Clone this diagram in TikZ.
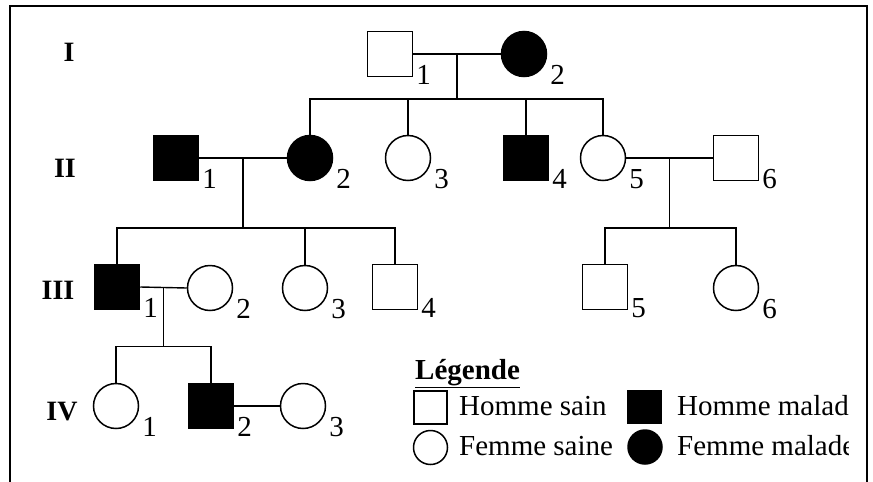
\documentclass[tikz,border=0pt]{standalone}
\usepackage{fontspec}
\setmainfont{Liberation Serif}
\usetikzlibrary{calc}

\tikzset{
  lien/.style = {line width=1.4pt},
  hsain/.style = {draw, line width=1.5pt, minimum size=45pt, inner sep=0},
  hmal/.style = {hsain, fill=black},
  fsain/.style = {circle, draw, line width=1.5pt, minimum size=45pt, inner sep=0},
  fmal/.style = {fsain, fill=black},
  num/.style = {anchor=base west, inner sep=0, xshift=3pt, yshift=-7pt,
    font=\fontsize{29}{34}\selectfont},
  gen/.style = {inner sep=0, font=\fontsize{28}{32}\selectfont\bfseries},
  legtxt/.style = {anchor=base west, inner sep=0, font=\fontsize{29}{34}\selectfont}
}

\begin{document}
\begin{tikzpicture}[x = 1pt, y = -1pt]
    \useasboundingbox (0,0) rectangle (873,482);
    \draw [line width = 2pt] (10,482) -- (10,6) -- (867,6) -- (867,482);

    % generations
    \node [gen] (gI) at (69,52) {I};
    \node [gen] (gII) at (65,168) {II};
    \node [gen] (gIII) at (58,290) {III};
    \node [gen] (gIV) at (62,412) {IV};

    % I
    \node [hsain] (I1) at (390,54) {};
    \node [fmal] (I2) at (524,54) {};
    % II
    \node [hmal] (II1) at (176,158) {};
    \node [fmal] (II2) at (310,158) {};
    \node [fsain] (II3) at (408,158) {};
    \node [hmal] (II4) at (526,158) {};
    \node [fsain] (II5) at (603,158) {};
    \node [hsain] (II6) at (736,158) {};
    % III
    \node [hmal] (III1) at (117,287) {};
    \node [fsain] (III2) at (210,288) {};
    \node [fsain] (III3) at (305,288) {};
    \node [hsain] (III4) at (395,287) {};
    \node [hsain] (III5) at (605,287) {};
    \node [fsain] (III6) at (736,288) {};
    % IV
    \node [fsain] (IV1) at (116,406) {};
    \node [hmal] (IV2) at (211,406) {};
    \node [fsain] (IV3) at (303,406) {};

    % numbers
    \node [num] (nI1) at (I1.east |- I1.south) {1};
    \node [num] (nI2) at (I2.east |- I2.south) {2};
    \node [num] (nII1) at (II1.east |- II1.south) {1};
    \node [num] (nII2) at (II2.east |- II2.south) {2};
    \node [num] (nII3) at (II3.east |- II3.south) {3};
    \node [num] (nII4) at (II4.east |- II4.south) {4};
    \node [num] (nII5) at (II5.east |- II5.south) {5};
    \node [num] (nII6) at (II6.east |- II6.south) {6};
    \node [num] (nIII1) at (III1.east |- III1.south) {1};
    \node [num] (nIII2) at (III2.east |- III2.south) {2};
    \node [num] (nIII3) at (III3.east |- III3.south) {3};
    \node [num] (nIII4) at (III4.east |- III4.south) {4};
    \node [num] (nIII5) at (III5.east |- III5.south) {5};
    \node [num] (nIII6) at (III6.east |- III6.south) {6};
    \node [num] (nIV1) at (IV1.east |- IV1.south) {1};
    \node [num] (nIV2) at (IV2.east |- IV2.south) {2};
    \node [num] (nIV3) at (IV3.east |- IV3.south) {3};

    % couples
    \draw [lien] (I1.east) -- (I2.west);
    \draw [lien] (II1.east) -- (II2.west);
    \draw [lien] (II5.east) -- (II6.west);
    \draw [lien] (III1.east) -- (III2.west);
    \draw [lien] (IV2.east) -- (IV3.west);
    \coordinate (mI) at ($(I1.east)!.5!(I2.west)$);
    \coordinate (mII) at ($(II1.east)!.5!(II2.west)$);
    \coordinate (mIIb) at ($(II5.east)!.5!(II6.west)$);
    \coordinate (mIII) at ($(III1.east)!.5!(III2.west)$);

    % children
    \coordinate (sI) at ($(mI) + (0,45)$);
    \draw [lien] (mI) -- (sI);
    \draw [lien] (II2.north) |- (sI) -| (II5.north);
    \draw [lien] (II3.north) -- (II3.north |- sI);
    \draw [lien] (II4.north) -- (II4.north |- sI);

    \coordinate (sII) at ($(mII) + (0,70)$);
    \draw [lien] (mII) -- (sII);
    \draw [lien] (III1.north) |- (sII) -| (III4.north);
    \draw [lien] (III3.north) -- (III3.north |- sII);

    \coordinate (sIIb) at ($(mIIb) + (0,70)$);
    \draw [lien] (mIIb) -- (sIIb);
    \draw [lien] (III5.north) |- (sIIb) -| (III6.north);

    \coordinate (sIII) at ($(mIII) + (0,59)$);
    \draw [lien] (mIII) -- (sIII);
    \draw [lien] (IV1.north) |- (sIII) -| (IV2.north);

    % legende
    \node [legtxt, font = \fontsize{29}{34}\selectfont\bfseries] (leg) at (415,379) {\underline{Légende}};
    \node [hsain, minimum size = 33pt] (lhs) at (430.5,407.5) {};
    \node [hmal, minimum size = 33pt] (lhm) at (644.5,407) {};
    \node [fsain, minimum size = 34pt] (lfs) at (430.5,447.5) {};
    \node [fmal, minimum size = 34pt] (lfm) at (645,447) {};
    \node [legtxt] (ths) at (459,415) {Homme sain};
    \node [legtxt] (tfs) at (459,455) {Femme saine};
    \begin{scope}
      \clip (660,380) rectangle (848,475);
      \node [legtxt] (thm) at (677,415) {Homme malade};
      \node [legtxt] (tfm) at (677,455) {Femme malade};
    \end{scope}
  \end{tikzpicture}
\end{document}
